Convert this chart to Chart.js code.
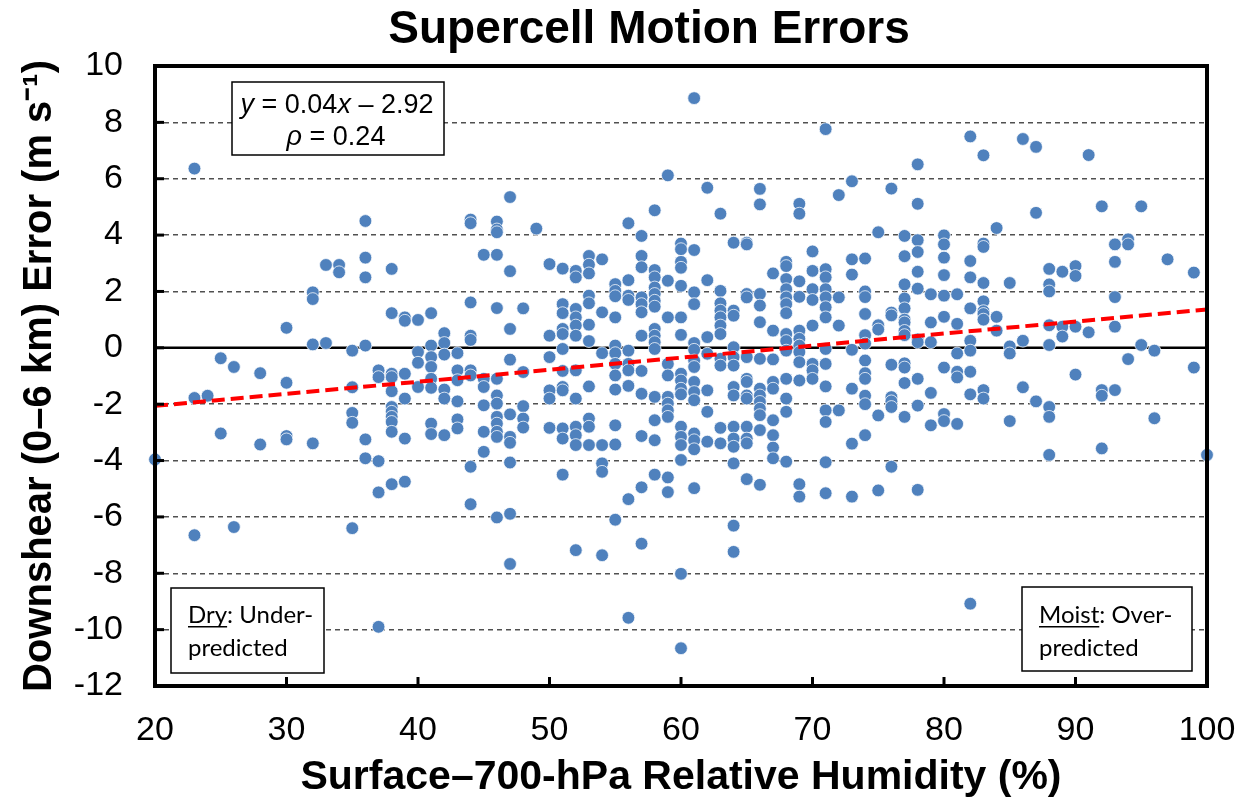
<!DOCTYPE html>
<html>
<head>
<meta charset="utf-8">
<script src="https://cdn.jsdelivr.net/npm/chart.js@4/dist/chart.umd.min.js"></script>
<style>
  body { margin: 0; background: #fff; }
  #wrap { width: 1244px; height: 805px; }
</style>
</head>
<body>
<div id="wrap"><canvas id="chart" width="1244" height="805"></canvas></div>
<script>
// relative humidity columns (%) and the motion errors (m/s) read at each one
const humidity = [20, 23, 24, 25, 26, 28, 30, 32, 33, 34, 35, 36, 37, 38, 39, 40,
  41, 42, 43, 44, 45, 46, 47, 48, 49, 50, 51, 52, 53, 54, 55, 56, 57, 58, 59, 60,
  61, 62, 63, 64, 65, 66, 67, 68, 69, 70, 71, 72, 73, 74, 75, 76, 77, 78, 79, 80,
  81, 82, 83, 84, 85, 86, 87, 88, 89, 90, 91, 92, 93, 94, 95, 96, 97, 99, 100];

const errors = [
  [-3.96],
  [6.36, -1.78, -6.65],
  [-1.7],
  [-0.37, -3.04],
  [-0.68, -6.36],
  [-0.9, -3.43],
  [0.71, -1.24, -3.13, -3.25],
  [1.97, 1.73, 0.12, -3.39],
  [2.94, 0.17],
  [2.94, 2.68],
  [-0.1, -1.4, -2.31, -2.66, -6.4],
  [4.5, 3.2, 2.5, 0.08, -3.25, -3.92],
  [-0.8, -1.04, -4.02, -5.13, -9.9],
  [2.8, 1.23, -0.92, -1.04, -1.54, -2.1, -2.27, -2.45, -2.63, -2.98, -4.84],
  [1.08, 0.96, -0.92, -1.8, -3.22, -4.75],
  [0.99, -0.15, -0.53, -1.39],
  [1.23, 0.08, -0.33, -0.68, -1.1, -1.42, -2.69, -3.06],
  [0.52, 0.17, -0.24, -1.48, -1.8, -3.1],
  [-0.19, -0.8, -1.15, -1.9, -2.54, -2.86],
  [4.55, 4.42, 1.61, 0.43, 0.28, -0.8, -0.98, -4.22, -5.55],
  [3.3, -1.1, -1.39, -2.04, -2.98, -3.69],
  [4.48, 4.2, 4.1, 3.3, 1.41, -1.1, -1.69, -1.98, -2.45, -2.69, -2.98, -3.16, -6.02],
  [5.35, 2.72, 0.67, -0.42, -2.36, -3.16, -3.37, -4.07, -5.89, -7.67],
  [1.4, -0.86, -2.07, -2.51, -2.83],
  [4.23],
  [2.97, 0.43, -0.33, -1.51, -1.8, -2.84],
  [2.81, 1.55, 1.23, 0.67, 0.49, -0.04, -0.82, -1.39, -1.51, -2.86, -3.22, -4.5],
  [2.73, 2.5, 1.38, 1.08, 0.79, 0.43, -0.8, -1.8, -2.8, -3.1, -3.45, -7.18],
  [3.26, 2.95, 2.64, 1.85, 1.58, 0.82, 0.24, -1.37, -2.51, -2.8, -3.45],
  [3.14, 1.26, -0.19, -3.45, -4.1, -4.4, -7.36],
  [2.26, 2.02, 1.83, 1.08, 0.08, -0.19, -0.57, -0.98, -1.48, -2.75, -3.43, -6.1],
  [4.42, 2.4, 1.85, 1.7, -0.1, -0.57, -0.8, -1.35, -5.37, -9.58],
  [3.97, 3.26, 2.86, 1.79, 1.55, 1.26, 0.43, -0.82, -1.63, -3.13, -4.95, -6.95],
  [4.88, 2.76, 2.5, 2.14, 1.91, 1.67, 1.46, 0.67, 0.43, 0.2, -0.04, -1.74, -2.57, -3.28, -4.5],
  [6.12, 2.38, 1.08, -0.57, -0.98, -1.74, -1.98, -2.22, -2.45, -4.6, -5.12],
  [3.7, 3.5, 3.05, 2.84, 2.2, 1.08, 0.46, -0.92, -1.16, -1.45, -1.65, -2.8, -3.16, -3.45, -3.98, -8.02, -10.66],
  [8.86, 3.47, 1.97, 1.55, 0.17, -0.07, -0.45, -0.68, -1.21, -1.57, -1.86, -3.04, -3.28, -3.6, -4.98],
  [5.68, 2.4, 0.38, -0.21, -1.51, -2.27, -3.33],
  [4.76, 2.02, 1.58, 1.32, 1.08, 0.79, 0.49, -0.39, -0.63, -2.84, -3.39],
  [3.73, 1.32, 1.14, 0.02, -0.33, -0.63, -1.39, -1.69, -2.8, -3.22, -3.51, -4.1, -6.31, -7.24],
  [3.73, 3.67, 1.91, 1.79, -0.33, -1.1, -1.21, -1.69, -1.8, -2.8, -3.22, -3.39, -4.66],
  [5.64, 5.09, 1.91, 1.5, 0.91, -0.39, -1.45, -1.69, -1.92, -2.16, -2.39, -2.92, -4.86],
  [2.64, 0.61, -0.41, -1.21, -1.45, -2.57, -3.1, -3.54, -3.92],
  [3.05, 2.9, 2.44, 2.08, 1.79, 1.55, 1.23, 0.49, 0.24, -0.1, -1.1, -1.8, -2.27, -4.04],
  [5.11, 4.76, 2.36, 1.81, 0.61, 0.32, 0.08, -0.15, -0.51, -1.16, -4.84, -5.28],
  [3.42, 2.73, 2.08, 1.7, 0.79, -0.57, -0.8, -1.1],
  [7.76, 2.79, 2.5, 2.08, 1.79, 1.44, 1.08, -0.04, -0.57, -1.37, -2.22, -2.63, -4.06, -5.16],
  [5.42, 1.79, 0.79, -2.22],
  [5.91, 3.14, 2.6, -0.07, -1.45, -3.4, -5.28],
  [3.17, 2.0, 1.8, 1.2, 0.45, 0.15, -0.45, -0.9, -1.1, -1.7, -2.0, -3.1],
  [4.1, 0.8, 0.65, -2.4, -5.06],
  [5.65, 1.25, 1.15, -0.6, -1.75, -1.9, -2.1, -4.22],
  [3.97, 3.25, 2.25, 1.75, 1.4, 1.0, 0.9, 0.6, 0.45, -0.55, -0.7, -1.25, -2.45],
  [6.51, 5.11, 3.82, 3.4, 2.7, 2.1, 0.3, 0.2, -1.1, -2.05, -5.04],
  [1.9, 0.9, 0.2, -1.6, -2.75],
  [3.99, 3.67, 3.2, 2.58, 1.85, 1.1, -0.7, -2.35, -2.6],
  [1.9, 0.85, -0.2, -0.85, -1.05, -2.7],
  [7.5, 3.08, 2.5, 1.4, 0.25, -0.1, -0.85, -1.65, -9.08],
  [6.83, 3.7, 3.58, 2.3, 1.65, 1.3, 1.2, 1.0, -1.5, -1.8],
  [4.25, 1.1, 0.61],
  [2.3, 0.05, -0.2, -2.6],
  [7.41, 0.25, -1.4],
  [7.13, 4.79, -1.9],
  [2.8, 2.25, 2.0, 0.8, 0.1, -2.1, -2.45, -3.8],
  [2.7, 0.75, 0.4],
  [2.9, 2.55, 0.75, -0.95],
  [6.84, 0.55],
  [5.02, -1.5, -1.7, -3.57],
  [3.67, 3.05, 1.8, 0.75, -1.5],
  [3.85, 3.67, -0.4],
  [5.02, 0.1],
  [-0.1, -2.5],
  [3.14],
  [2.67, -0.7],
  [-3.8]
];

// least-squares fit drawn across the axis range
const trendX = [20, 100];
const trendY = [-2.06, 1.36];

const xTicks = { min: 20, max: 100, step: 10 };
const yTicks = { min: -12, max: 10, step: 2 };

const points = [];
humidity.forEach((h, i) => errors[i].forEach(e => points.push({ x: h, y: e })));
const trend = trendX.map((x, i) => ({ x: x, y: trendY[i] }));

const ARIAL = "'Liberation Sans', Arial, sans-serif";
const CALIBRI = "Lato, 'Open Sans', sans-serif";

function boxText(ctx, box, lines) {
  ctx.save();
  ctx.fillStyle = '#fff';
  ctx.fillRect(box.x, box.y, box.w, box.h);
  ctx.strokeStyle = '#000';
  ctx.lineWidth = 1.5;
  ctx.strokeRect(box.x, box.y, box.w, box.h);
  ctx.fillStyle = '#000';
  ctx.textBaseline = 'alphabetic';
  lines.forEach(line => {
    let x = line.x;
    if (line.center) {
      let total = 0;
      line.parts.forEach(p => { ctx.font = p.font; total += ctx.measureText(p.t).width; });
      x = line.center - total / 2;
    }
    line.parts.forEach(p => {
      ctx.font = p.font;
      const w = ctx.measureText(p.t).width;
      ctx.fillText(p.t, x, line.y);
      if (p.under) {
        ctx.fillRect(x, line.y + 3, w, 1.5);
      }
      x += w;
    });
  });
  ctx.restore();
}

const decor = {
  id: 'decor',
  beforeDatasetsDraw(chart) {
    const { ctx, chartArea: a, scales: { y } } = chart;
    const y0 = y.getPixelForValue(0);
    ctx.save();
    ctx.strokeStyle = '#000';
    ctx.lineWidth = 2.5;
    ctx.beginPath();
    ctx.moveTo(a.left, y0);
    ctx.lineTo(a.right, y0);
    ctx.stroke();
    ctx.restore();
  },
  afterDatasetsDraw(chart) {
    const { ctx, chartArea: a, scales: { x, y } } = chart;
    ctx.save();
    ctx.strokeStyle = '#000';
    ctx.lineWidth = 3;
    y.ticks.forEach(t => {
      const py = y.getPixelForValue(t.value);
      ctx.beginPath(); ctx.moveTo(a.left, py); ctx.lineTo(a.left + 9, py); ctx.stroke();
    });
    x.ticks.forEach(t => {
      const px = x.getPixelForValue(t.value);
      ctx.beginPath(); ctx.moveTo(px, a.bottom); ctx.lineTo(px, a.bottom - 9); ctx.stroke();
    });
    ctx.lineWidth = 4;
    ctx.strokeRect(a.left, a.top, a.right - a.left, a.bottom - a.top);
    ctx.restore();
  },
  afterDraw(chart) {
    const ctx = chart.ctx;
    ctx.save();
    ctx.fillStyle = '#000';
    ctx.font = 'bold 46px ' + ARIAL;
    ctx.textAlign = 'center';
    ctx.textBaseline = 'alphabetic';
    ctx.fillText('Supercell Motion Errors', 649, 43);
    ctx.restore();

    const reg = '27px ' + ARIAL, ital = 'italic 27px ' + ARIAL;
    boxText(ctx, { x: 232, y: 82, w: 212, h: 73 }, [
      { center: 337, y: 113, parts: [
        { t: 'y', font: ital }, { t: ' = 0.04', font: reg },
        { t: 'x', font: ital }, { t: ' \u2013 2.92', font: reg }] },
      { center: 336, y: 145, parts: [
        { t: '\u03c1', font: ital }, { t: ' = 0.24', font: reg }] }
    ]);

    const cal = '24px ' + CALIBRI;
    boxText(ctx, { x: 171, y: 588, w: 153, h: 85 }, [
      { x: 188, y: 623, parts: [{ t: 'Dry', font: cal, under: true }, { t: ': Under-', font: cal }] },
      { x: 188, y: 656, parts: [{ t: 'predicted', font: cal }] }
    ]);
    boxText(ctx, { x: 1022, y: 587, w: 170, h: 84 }, [
      { x: 1039, y: 623, parts: [{ t: 'Moist', font: cal, under: true }, { t: ': Over-', font: cal }] },
      { x: 1039, y: 656, parts: [{ t: 'predicted', font: cal }] }
    ]);
  }
};

new Chart(document.getElementById('chart'), {
  type: 'scatter',
  data: {
    datasets: [
      {
        type: 'line',
        data: trend,
        borderColor: '#ff0000',
        borderWidth: 4,
        borderDash: [13, 6],
        pointRadius: 0,
        fill: false,
        order: 0
      },
      {
        data: points,
        backgroundColor: '#4f81bd',
        borderColor: 'rgba(255,255,255,0.75)',
        borderWidth: 1,
        pointRadius: 6.4,
        clip: false,
        order: 1
      }
    ]
  },
  plugins: [decor],
  options: {
    responsive: false,
    animation: false,
    devicePixelRatio: 1,
    layout: { padding: { top: 66, right: 37, left: 0, bottom: 0 } },
    plugins: { legend: { display: false }, tooltip: { enabled: false } },
    scales: {
      x: {
        type: 'linear',
        min: xTicks.min, max: xTicks.max,
        ticks: { stepSize: xTicks.step, color: '#000', padding: 24, font: { family: ARIAL, size: 34 } },
        grid: { display: false, drawTicks: false },
        border: { display: false },
        title: {
          display: true,
          text: 'Surface\u2013700-hPa Relative Humidity (%)',
          color: '#000',
          font: { family: ARIAL, size: 41, weight: 'bold' },
          padding: { top: 0, bottom: 3 }
        },
        afterFit(s) { s.height = 119; s.paddingLeft = 0; s.paddingRight = 0; }
      },
      y: {
        type: 'linear',
        min: yTicks.min, max: yTicks.max,
        ticks: { stepSize: yTicks.step, color: '#000', padding: 32, font: { family: ARIAL, size: 34 } },
        grid: {
          drawTicks: false,
          lineWidth: 1.4,
          color: c => (c.tick.value === 0 ? 'rgba(0,0,0,0)' : '#505050')
        },
        border: { display: false, dash: [5, 4] },
        title: {
          display: true,
          text: 'Downshear (0\u20136 km) Error (m s\u207b\u00b9)',
          color: '#000',
          font: { family: ARIAL, size: 40, weight: 'bold' },
          padding: { top: 16, bottom: 0 }
        },
        afterFit(s) { s.width = 155; s.paddingTop = 0; s.paddingBottom = 0; }
      }
    }
  }
});
</script>
</body>
</html>
